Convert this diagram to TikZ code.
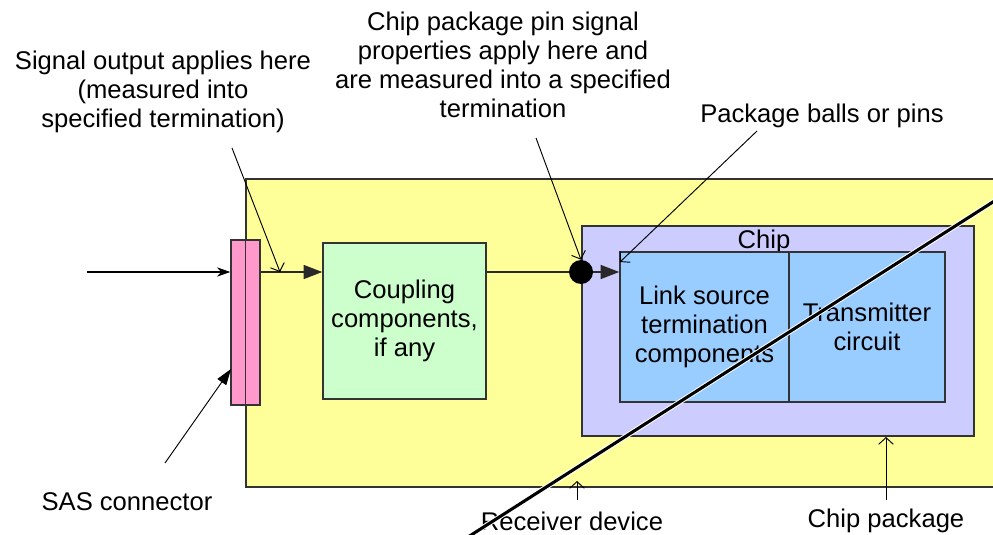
\documentclass[tikz,border=0pt]{standalone}
\usepackage{fontspec}
\setmainfont{Liberation Sans}
\usetikzlibrary{arrows.meta}
\definecolor{yel}{HTML}{FFFF99}
\definecolor{pnk}{HTML}{FF99CC}
\definecolor{grn}{HTML}{CCFFCC}
\definecolor{lav}{HTML}{CCCCFF}
\definecolor{blu}{HTML}{99CCFF}
\definecolor{edge}{HTML}{333333}
\tikzset{
  lbl/.style={font=\fontsize{19.2pt}{21.8pt}\selectfont, inner sep=0pt, align=center},
  box/.style={draw=edge, line width=1.1pt, rectangle, inner sep=0pt, align=center,
              font=\fontsize{19.2pt}{21.8pt}\selectfont},
  sigline/.style={draw=edge!80!black, line width=1.1pt},
  bigtip/.style={-{Triangle[length=14pt,width=10.5pt]}},
  intip/.style={-{Stealth[length=10pt,width=7pt]}},
  leader/.style={black, line width=0.7pt, -{Straight Barb[length=5pt,width=11pt]}},
  sastip/.style={black, line width=0.7pt, -{Triangle[length=12pt,width=8pt]}},
}
\begin{document}
\begin{tikzpicture}[x=0.75pt,y=-0.75pt]
\useasboundingbox (0,0) rectangle (993,535);
% boxes
\node[box, fill=yel, minimum width=759*0.75pt, minimum height=308*0.75pt] (recv) at (625.5,333) {};
\node[box, fill=pnk, minimum width=29*0.75pt, minimum height=165*0.75pt] (sas) at (245.5,322.5) {};
\draw[edge, line width=1.1pt] (recv.north west) -- (recv.south west);
\node[box, fill=grn, minimum width=163*0.75pt, minimum height=156*0.75pt] (coup) at (404.5,321) {Coupling\\components,\\if any};
\node[box, fill=lav, minimum width=392*0.75pt, minimum height=210*0.75pt] (chip) at (778,331) {};
\node[lbl] (chiplbl) at (764,242) {Chip};
\node[box, fill=blu, minimum width=169*0.75pt, minimum height=150*0.75pt] (link) at (704.5,327) {Link source\\termination\\components};
\node[box, fill=blu, minimum width=156*0.75pt, minimum height=150*0.75pt] (trans) at (867,327) {Transmitter\\circuit};
\node[circle, fill=black, minimum size=24*0.75pt, inner sep=0pt] (dot) at (581,272) {};
% signal path
\coordinate (in) at (87,272);
\draw[black, line width=0.8pt, intip] (in) -- (sas.west |- in);
\draw[sigline, bigtip] (sas.east |- in) -- (coup.west |- in);
\draw[sigline] (coup.east |- in) -- (dot);
\draw[sigline, bigtip] (dot) -- (link.west |- dot);
% labels
\node[lbl] (t1) at (163,92) {Signal output applies here\\(measured into\\specified termination)};
\node[lbl] (t2) at (503,65) {Chip package pin signal\\properties apply here and\\are measured into a specified\\termination};
\node[lbl] (t3) at (822,116) {Package balls or pins};
\node[lbl] (t4) at (127,502) {SAS connector};
\node[lbl] (t5) at (572,521) {Receiver device};
\node[lbl] (t6) at (886,521) {Chip package};
% leaders
\coordinate (s1) at (232,148); \coordinate (e1) at (280,272);
\draw[leader] (s1) -- (e1);
\coordinate (s2) at (536,138);
\draw[leader] (s2) -- (dot.north);
\coordinate (s3) at (757,131); \coordinate (e3) at (620,262);
\draw[leader] (s3) -- (e3);
\coordinate (s4) at (165,463); \coordinate (e4) at (231,369);
\draw[sastip] (s4) -- (e4);
\coordinate (s5) at (577,500); \coordinate (e5) at (577,481);
\draw[leader] (s5) -- (e5);
\coordinate (s6) at (886,500); \coordinate (e6) at (886,437);
\draw[leader] (s6) -- (e6);
% diagonal stroke
\coordinate (d1) at (468,537); \coordinate (d2) at (996,200);
\draw[white, line width=3.8pt] (d1) -- (d2);
\draw[black, line width=2.3pt] (d1) -- (d2);
\end{tikzpicture}
\end{document}
